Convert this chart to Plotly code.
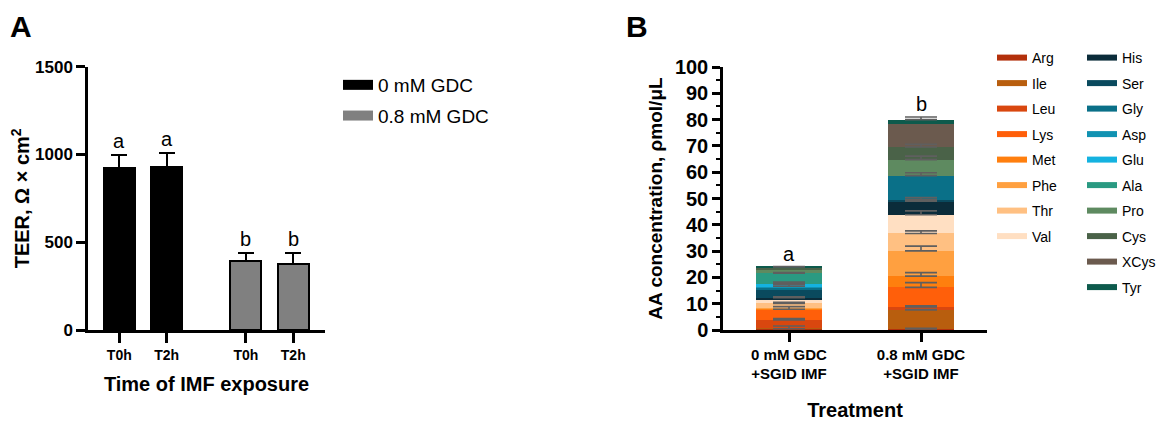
import numpy as np
import plotly.graph_objects as go

# Panel A: TEER
time_labels = ["T0h", "T2h", "T0h", "T2h"]
gdc_groups = ["0 mM GDC", "0.8 mM GDC"]
teer_mean = [922, 928, 392, 375]
teer_sd = [76, 80, 46, 62]
teer_letters = ["a", "a", "b", "b"]

# Panel B: amino acids, stacked
treatments = ["0 mM GDC<br>+SGID IMF", "0.8 mM GDC<br>+SGID IMF"]
amino_acids = ["Arg", "Ile", "Leu", "Lys", "Met", "Phe", "Thr", "Val",
               "His", "Ser", "Gly", "Asp", "Glu", "Ala", "Pro", "Cys", "XCys", "Tyr"]
aa_0mm = [0.5, 0.3, 3.0, 4.1, 0.2, 0.3, 1.7, 1.6,
          0.6, 2.9, 0.8, 0.7, 0.7, 4.2, 1.4, 0.9, 0.0, 0.1]
aa_08mm = [0.4, 7.2, 1.2, 7.4, 4.3, 9.6, 6.6, 7.1,
           5.2, 0.6, 9.1, 0.0, 0.0, 0.0, 6.1, 4.8, 8.9, 1.5]
aa_err_0mm = [1.0, 0.0, 0.6, 1.0, 0.0, 0.0, 0.4, 0.0,
              0.3, 0.0, 0.0, 0.9, 0.8, 0.2, 0.0, 0.0, 0.0, 0.1]
aa_err_08mm = [0.2, 0.2, 0.4, 1.8, 1.3, 1.8, 1.0, 1.5,
               0.6, 0.8, 1.1, 0.0, 0.0, 0.0, 1.3, 1.0, 0.0, 1.0]
aa_letters = ["a", "b"]

aa_colors = ["#B3300B", "#B85E0E", "#D9470F", "#FF5F0A", "#FF7F0E", "#FFA040",
             "#FFC082", "#FFDFC2", "#0B2C3A", "#0A4A5E", "#0A7088", "#1192B2",
             "#14B2E0", "#2A9A82", "#5E8A60", "#4A6248", "#6B5A4E", "#0D5A4C"]

FONT = "Arial, Liberation Sans, sans-serif"
W, H = 1169, 425
OFF = 8  # page body margin


def px(x):
    # screen pixel -> paper x
    return (x - OFF) / W


def py(y):
    # screen pixel -> paper y
    return 1 - (y - OFF) / H


fig = go.Figure()

# --- A ---
pos = [0, 1, 2.67, 3.67]
fig.add_trace(go.Bar(
    x=pos[:2], y=teer_mean[:2], width=0.65, name=gdc_groups[0],
    marker=dict(color="black", line=dict(color="black", width=2)),
    error_y=dict(type="data", array=teer_sd[:2], arrayminus=[0, 0], symmetric=False,
                 color="black", thickness=2, width=8),
    xaxis="x", yaxis="y", showlegend=False,
))
fig.add_trace(go.Bar(
    x=pos[2:], y=teer_mean[2:], width=0.65, name=gdc_groups[1],
    marker=dict(color="#808080", line=dict(color="black", width=2)),
    error_y=dict(type="data", array=teer_sd[2:], arrayminus=[0, 0], symmetric=False,
                 color="black", thickness=2, width=8),
    xaxis="x", yaxis="y", showlegend=False,
))
for name, col in zip(gdc_groups, ["black", "#808080"]):
    fig.add_trace(go.Scatter(x=[None], y=[None], mode="lines", name=name, legendgroup=name,
                             line=dict(color=col, width=13), legend="legend",
                             xaxis="x", yaxis="y"))
for p, m, s, lab in zip(pos, teer_mean, teer_sd, teer_letters):
    fig.add_annotation(x=p, y=m + s, text=lab, showarrow=False, yanchor="bottom", yshift=1,
                       xref="x", yref="y", font=dict(size=20, color="black"))

# --- B ---
for i, aa in enumerate(amino_acids):
    fig.add_trace(go.Bar(
        x=treatments, y=[aa_0mm[i], aa_08mm[i]], name=aa, width=0.5,
        marker=dict(color=aa_colors[i], line=dict(width=0)),
        xaxis="x2", yaxis="y2", showlegend=False,
    ))

# error bars drawn as a separate layer so the next segment does not cover them
tops = np.cumsum([aa_0mm, aa_08mm], axis=1)
errs = np.array([aa_err_0mm, aa_err_08mm])
for j, t in enumerate(treatments):
    keep = errs[j] > 0
    fig.add_trace(go.Scatter(
        x=[t] * int(keep.sum()), y=tops[j][keep], mode="markers",
        marker=dict(size=1, opacity=0),
        error_y=dict(type="data", array=errs[j][keep], arrayminus=np.zeros(keep.sum()),
                     symmetric=False, color="#5F5F5F", thickness=1.6, width=16),
        xaxis="x2", yaxis="y2", showlegend=False, hoverinfo="skip",
    ))
    fig.add_annotation(x=t, y=float((tops[j] + errs[j]).max()), text=aa_letters[j],
                       showarrow=False, yanchor="bottom", xref="x2", yref="y2",
                       font=dict(size=20, color="black"))

for i, aa in enumerate(amino_acids):
    fig.add_trace(go.Scatter(
        x=[None], y=[None], mode="lines", name=aa, legendgroup=aa,
        line=dict(color=aa_colors[i], width=6),
        legend="legend2" if i < 8 else "legend3", xaxis="x2", yaxis="y2",
    ))

axis_common = dict(showline=True, linecolor="black", linewidth=2.5, ticks="outside",
                   tickcolor="black", tickwidth=2.5, showgrid=False, zeroline=False,
                   automargin=False)

fig.update_layout(
    width=W, height=H,
    margin=dict(l=0, r=0, t=0, b=0, autoexpand=False),
    paper_bgcolor="white", plot_bgcolor="white",
    font=dict(family=FONT, color="black"),
    barmode="stack",
    xaxis=dict(domain=[px(88), px(325)], range=[-0.66, 4.34], anchor="y",
               tickvals=pos, ticktext=time_labels, ticklen=10,
               tickfont=dict(size=14, weight="bold"),
               title=dict(text="Time of IMF exposure", standoff=16,
                          font=dict(size=20, weight="bold")),
               **axis_common),
    yaxis=dict(domain=[py(330), py(66.7)], range=[0, 1500], anchor="x",
               tickvals=[0, 500, 1000, 1500], ticklen=9,
               tickfont=dict(size=17, weight="bold"),
               title=dict(text="TEER, Ω × cm<sup>2</sup>", standoff=8,
                          font=dict(size=20, weight="bold")),
               **axis_common),
    xaxis2=dict(domain=[px(723), px(987)], range=[-0.5, 1.5], anchor="y2", type="category",
                ticklen=9, tickfont=dict(size=15, weight="bold"),
                title=dict(text="Treatment", standoff=22,
                           font=dict(size=20, weight="bold")),
                **axis_common),
    yaxis2=dict(domain=[py(330), py(67)], range=[0, 100], anchor="x2",
                dtick=10, ticklen=8, tickfont=dict(size=20, weight="bold"),
                minor=dict(dtick=5, ticklen=4, tickwidth=2, ticks="outside", tickcolor="black"),
                title=dict(text="AA concentration, ρmol/μL", standoff=8,
                           font=dict(size=19, weight="bold")),
                **axis_common),
    legend=dict(x=px(338), y=py(66), xanchor="left", yanchor="top", traceorder="grouped",
                font=dict(size=19), bgcolor="rgba(0,0,0,0)", tracegroupgap=3),
    legend2=dict(x=px(992), y=py(42), xanchor="left", yanchor="top",
                 font=dict(size=14), bgcolor="rgba(0,0,0,0)", tracegroupgap=4.3),
    legend3=dict(x=px(1082), y=py(42), xanchor="left", yanchor="top",
                 font=dict(size=14), bgcolor="rgba(0,0,0,0)", tracegroupgap=4.3),
)

fig.add_annotation(x=0, y=py(8), xref="paper", yref="paper", text="<b>A</b>",
                   showarrow=False, xanchor="left", yanchor="top", font=dict(size=30))
fig.add_annotation(x=px(624), y=py(8), xref="paper", yref="paper", text="<b>B</b>",
                   showarrow=False, xanchor="left", yanchor="top", font=dict(size=30))

fig.write_html("out.html")
